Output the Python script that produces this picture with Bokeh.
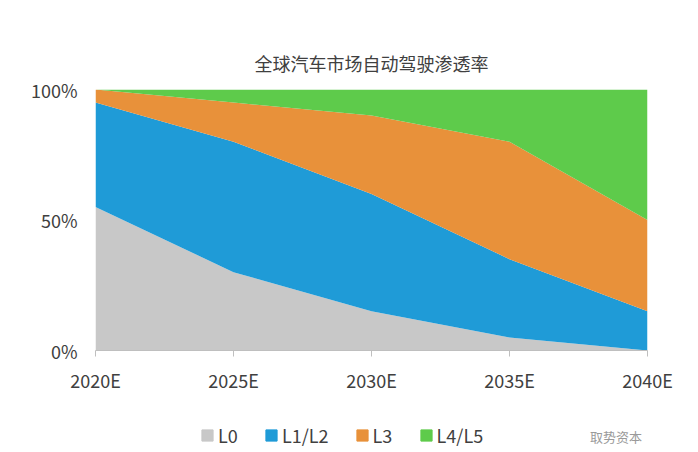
from bokeh.plotting import figure
from bokeh.layouts import column
from bokeh.models import Legend, LegendItem, Title, FixedTicker, NumeralTickFormatter, Range1d
from bokeh.embed import file_html
from bokeh.resources import INLINE

years = ["2020E", "2025E", "2030E", "2035E", "2040E"]
l0 = [55, 30, 15, 5, 0]
l12 = [40, 50, 45, 30, 15]
l3 = [5, 15, 30, 45, 35]
l45 = [0, 5, 10, 20, 50]
names = ["L0", "L1/L2", "L3", "L4/L5"]
colors = ["#c8c8c8", "#1f9bd7", "#e8913a", "#5ecb4b"]
watermark = "取势资本"

font = "Noto Sans CJK SC"
x = list(range(len(years)))
data = dict(x=x, L0=[v / 100 for v in l0], L12=[v / 100 for v in l12],
            L3=[v / 100 for v in l3], L45=[v / 100 for v in l45])

p = figure(width=690, height=400, output_backend="svg", toolbar_location=None,
           x_range=Range1d(0, 4), y_range=Range1d(0, 1),
           min_border_left=95, min_border_right=43, min_border_top=89, min_border_bottom=50)
p.outline_line_color = None
p.grid.visible = False

p.varea_stack(["L0", "L12", "L3", "L45"], x="x", color=colors, source=data)

p.xaxis.ticker = FixedTicker(ticks=x)
p.xaxis.major_label_overrides = {i: y for i, y in enumerate(years)}
p.yaxis.ticker = FixedTicker(ticks=[0, 0.5, 1])
p.yaxis.formatter = NumeralTickFormatter(format="0%")
for ax in (p.xaxis[0], p.yaxis[0]):
    ax.major_label_text_font = font
    ax.major_label_text_font_size = "18px"
    ax.major_label_text_color = "#404040"
    ax.minor_tick_line_color = None
p.yaxis.axis_line_color = None
p.yaxis.major_tick_line_color = None
p.yaxis.major_label_standoff = 12
p.xaxis.axis_line_color = "#bfbfbf"
p.xaxis.major_tick_line_color = "#bfbfbf"
p.xaxis.major_tick_in = 0
p.xaxis.major_tick_out = 6
p.xaxis.major_label_standoff = 10

p.add_layout(Title(text="全球汽车市场自动驾驶渗透率", align="center", offset=39, text_font=font,
                   text_font_size="18px", text_color="#404040", text_font_style="normal",
                   standoff=28), "above")

# legend strip (swatch glyphs sit outside the visible range)
q = figure(width=690, height=48, output_backend="svg", toolbar_location=None,
           x_range=Range1d(0, 1), y_range=Range1d(0, 1), min_border=0)
q.axis.visible = False
q.grid.visible = False
q.outline_line_color = None
rs = [q.quad(left=[-5], right=[-4], bottom=[-5], top=[-4], color=c) for c in colors]
legend = Legend(items=[LegendItem(label=n, renderers=[r]) for n, r in zip(names, rs)],
                orientation="horizontal", location=(105, 0), label_text_font=font,
                label_text_font_size="18px", label_text_color="#404040",
                glyph_width=14, glyph_height=14, spacing=26, border_line_color=None,
                background_fill_alpha=0, margin=0, padding=4, label_standoff=4)
q.add_layout(legend)
wm = q.quad(left=[-5], right=[-4], bottom=[-5], top=[-4], alpha=0)
q.add_layout(Legend(items=[LegendItem(label=watermark, renderers=[wm])], location=(495, 2),
                    label_text_font=font, label_text_font_size="13px", label_text_color="#9a9a9a",
                    glyph_width=0, glyph_height=14, label_standoff=0, border_line_color=None,
                    background_fill_alpha=0, margin=0, padding=4))

open("out.html", "w").write(file_html(column(p, q, spacing=0), INLINE))
